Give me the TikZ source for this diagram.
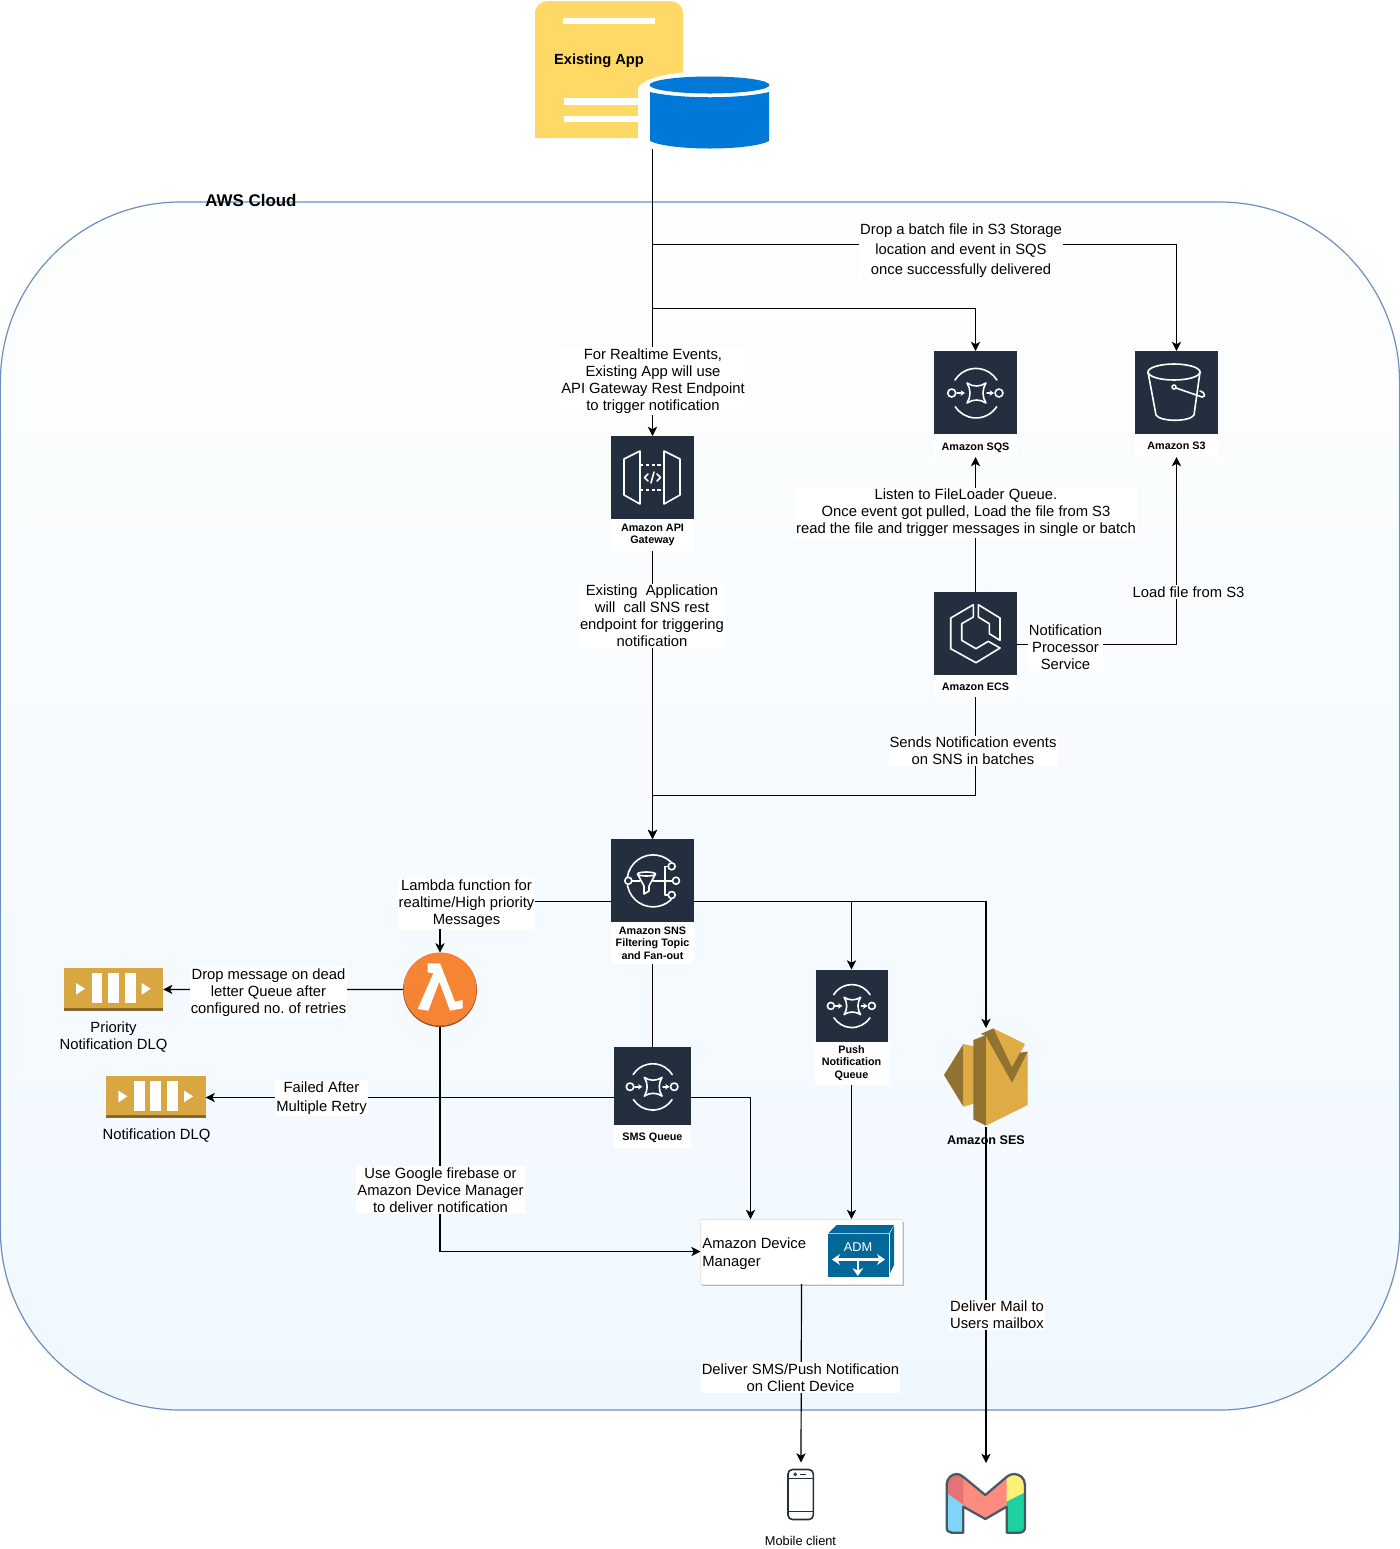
\documentclass[tikz,border=0pt]{standalone}
\usepackage{fontspec}
\setmainfont{Liberation Sans}
\frenchspacing
\usetikzlibrary{arrows.meta,fit,calc}
\definecolor{awsdark}{HTML}{232F3E}
\definecolor{docyellow}{HTML}{FFD966}
\definecolor{dbblue}{HTML}{0078D7}
\definecolor{gold}{HTML}{D9A741}
\definecolor{golddark}{HTML}{876929}
\definecolor{sesgold}{HTML}{DEAB44}
\definecolor{sesdark}{HTML}{917230}
\definecolor{admblue}{HTML}{036897}
\definecolor{lamorange}{HTML}{F58534}
\definecolor{lamdark}{HTML}{9D5025}
\definecolor{cloudline}{HTML}{6C8EBF}
\definecolor{cloudtop}{HTML}{FDFEFE}
\definecolor{cloudbottom}{HTML}{F0F8FF}
\definecolor{gmline}{HTML}{455A64}
\definecolor{gmsalmon}{HTML}{FF8A80}
\definecolor{gmred}{HTML}{E57373}
\definecolor{gmblue}{HTML}{81D4FA}
\definecolor{gmyellow}{HTML}{FFF176}
\definecolor{gmgreen}{HTML}{1DD1A1}
\tikzset{
  ibox/.style={rectangle,fill=awsdark,minimum size=41.5pt,inner sep=0pt,outer sep=0pt},
  ilbl/.style={rectangle,fill=white,anchor=north,minimum width=41.5pt,inner sep=0pt,outer sep=0pt,align=center,
    font=\fontsize{5.4}{6.25}\selectfont\bfseries},
  ilblone/.style={ilbl,text height=4.6pt,text depth=0pt},
  grp/.style={rectangle,inner sep=0pt,outer sep=0pt},
  spot/.style={rectangle,inner sep=0pt,outer sep=0pt},
  lbl/.style={rectangle,fill=white,inner xsep=0.5pt,inner ysep=0.6pt,align=center,
    font=\fontsize{7.4}{8.5}\selectfont},
  lblwide/.style={lbl,font=\fontsize{7.4}{10}\selectfont},
  plain/.style={rectangle,inner sep=0pt,align=center,font=\fontsize{7.4}{8.5}\selectfont},
  conn/.style={draw=black,line width=.6pt},
  arr/.style={conn,-{Stealth[length=4.6pt,width=4.6pt,inset=1.2pt]}},
  icn/.style={draw=white,line width=.8pt,line join=round,line cap=round},
}
\newcommand{\glyphsqs}[3]{\begin{scope}[shift={(#1,#2)},scale=#3,icn]
  \draw (21,29) arc[start angle=212,end angle=328,radius=24.7];
  \draw (62.7,55.7) arc[start angle=33,end angle=147,radius=24.7];
  \draw (17.7,42) circle[radius=4];
  \draw (65,42) circle[radius=4];
  \draw[-{Stealth[length=2.2pt,width=2.8pt]}] (23,42) -- (31,42);
  \draw[-{Stealth[length=2.2pt,width=2.8pt]}] (53,42) -- (60,42);
  \draw (33,32) .. controls (39,36) and (46,36) .. (52,32) .. controls (48,38) and (48,46) .. (52,52)
     .. controls (46,48) and (39,48) .. (33,52) .. controls (37,46) and (37,38) .. (33,32) -- cycle;
\end{scope}}
\begin{document}
\begin{tikzpicture}[x=.5pt,y=-.5pt]
\useasboundingbox (0,0) rectangle (1400,1549);

% cloud
\node[rectangle,draw=cloudline,line width=.6pt,rounded corners=90pt,top color=cloudtop,bottom color=cloudbottom,
  minimum width=699.6pt,minimum height=604pt,inner sep=0pt,outer sep=0pt] (cloud) at (700,806) {};

% existing app
\fill[docyellow] (535,138) -- (535,14) .. controls (535,5) and (541,1) .. (550,1) -- (668,1)
   .. controls (677,1) and (683,5) .. (683,14) -- (683,138) -- cycle;
\fill[white] (563,18) rectangle (654.5,24);
\fill[white] (564,98) rectangle (640,104.5);
\fill[white] (564,115.5) rectangle (640,122);
\node[spot,font=\fontsize{7.35}{8.5}\selectfont\bfseries] (appname) at (599,61) {Existing App};
\fill[white] (638,160) -- (638,90) .. controls (638,78) and (675,71) .. (710,71) .. controls (750,71) and (782,78) .. (782,90) -- (782,160) -- cycle;
\fill[dbblue] (709.5,85) ellipse[x radius=60,y radius=8.5];
\fill[dbblue] (650,92) .. controls (680,99) and (740,99) .. (769,92) -- (769,141) .. controls (750,151) and (670,151) .. (650,141) -- cycle;
\node[spot,minimum width=60pt,minimum height=36.5pt] (db) at (709.5,112.5) {};
\coordinate (dbout) at (652.5,149);
\coordinate (branchone) at (652.5,244.5);
\coordinate (branchtwo) at (652.5,308.5);

% AWS icons
\node[ibox] (sqs) at (975.5,392.5) {};
\node[ilblone,minimum height=11.5pt] (sqsl) at (sqs.south) {Amazon SQS};
\glyphsqs{934}{351}{1}
\node[ibox] (s3) at (1176.5,392.5) {};
\node[ilbl,minimum height=11.5pt] (s3l) at (s3.south) {Amazon S3};
\begin{scope}[shift={(1135,351)},icn]
  \draw (39,21) ellipse[x radius=26,y radius=8];
  \draw (13,21) -- (21,64) .. controls (25,71) and (55,71) .. (59,64) -- (65,21);
  \draw (39,36) circle[radius=2];
  \draw (41,37) -- (67,46) .. controls (71,46) and (70,41) .. (65,40);
\end{scope}
\node[ibox] (api) at (652.5,477.5) {};
\node[ilbl,minimum height=16pt] (apil) at (api.south) {Amazon API\\Gateway};
\begin{scope}[shift={(611,436)},icn]
  \draw (13,23) -- (29,15) -- (29,68) -- (13,59) -- cycle;
  \draw (69,23) -- (53,15) -- (53,68) -- (69,59) -- cycle;
  \draw[dash pattern=on 1.6pt off 1.3pt,line cap=butt] (29,29) -- (53,29);
  \draw[dash pattern=on 1.6pt off 1.3pt,line cap=butt] (29,54) -- (53,54);
  \draw (37,38) -- (33.5,41.5) -- (37,45);
  \draw (46,38) -- (49.5,41.5) -- (46,45);
  \draw (43,36) -- (40,47);
\end{scope}
\node[ibox] (ecs) at (975.5,633.5) {};
\node[ilblone,minimum height=11pt] (ecsl) at (ecs.south) {Amazon ECS};
\node[grp,fit=(ecs)(ecsl)] (ecsg) {};
\begin{scope}[shift={(934,592)},icn]
  \draw (39.3,12.7) -- (16.7,26) -- (16.7,56.7) -- (42,70.7) -- (66,56) -- (54.3,49.3) -- (42,56.7) -- (27.7,48.3) -- (27.7,31.7) -- (39.3,25) -- cycle;
  \draw (44.3,12.7) -- (66,26) -- (66,48.3) -- (55.3,41.7) -- (55.3,31.7) -- (44.3,25) -- cycle;
\end{scope}
\node[ibox] (sns) at (652.5,880.5) {};
\node[ilbl,minimum height=21pt] (snsl) at (sns.south) {Amazon SNS\\Filtering Topic\\and Fan-out};
\node[grp,fit=(sns)(snsl)] (snsg) {};
\begin{scope}[shift={(611,839)},icn]
  \draw (60,23) arc[start angle=313.5,end angle=46.5,radius=26];
  \draw (21,42) -- (29,42);
  \draw (42,42) -- (61.5,42);
  \draw (58,27.3) -- (54,27.3) -- (54,56) -- (58,56);
  \draw[fill=awsdark] (17.3,41.7) circle[radius=3.5];
  \draw[fill=awsdark] (60.7,27.3) circle[radius=3.5];
  \draw[fill=awsdark] (65,41.7) circle[radius=3.5];
  \draw[fill=awsdark] (60.7,56) circle[radius=3.5];
  \draw[fill=awsdark] (26.5,35) -- (33,47) -- (33,55) -- (38,52) -- (38,47) -- (44.5,35);
  \draw[fill=awsdark] (35.5,35) ellipse[x radius=9,y radius=2];
\end{scope}
\node[ibox,minimum size=38.75pt] (smsq) at (652.5,1086) {};
\node[ilblone,minimum width=38.75pt,minimum height=11.5pt] (smsl) at (smsq.south) {SMS Queue};
\node[grp,fit=(smsq)(smsl)] (smsg) {};
\glyphsqs{613.5}{1047.5}{.934}
\node[ibox,minimum size=36pt] (push) at (851.5,1005.5) {};
\node[ilbl,minimum width=37pt,minimum height=21.5pt] (pushl) at (push.south) {Push\\Notification\\Queue};
\glyphsqs{815.5}{969.5}{.867}

% lambda
\fill[lamdark] (440,990) circle[radius=37];
\fill[lamorange] (440,989) circle[radius=36.5];
\fill[white] (427.7,963.3) -- (440,963.3) -- (455,1001.7) -- (462.7,1000) -- (462.7,1008.3) -- (450,1010.7)
   -- (439.3,981.7) -- (428.3,1010.7) -- (417.7,1009) -- (433.3,973.3) -- (427.7,972.3) -- cycle;
\node[circle,minimum size=37pt,inner sep=0pt,outer sep=0pt] (lambda) at (440,989.5) {};

% dead letter queues
\newcommand{\glyphdlq}[2]{\begin{scope}[shift={(#1,#2)}]
  \fill[gold] (0,0) rectangle (99.3,40);
  \fill[golddark] (0,39.5) rectangle (99.3,42.7);
  \fill[white] (12,15) -- (21,20.7) -- (12,26.7) -- cycle;
  \fill[white] (27.7,5) rectangle (38.3,35);
  \fill[white] (44,5) rectangle (55,35);
  \fill[white] (61,5) rectangle (71.7,35);
  \fill[white] (77.7,15) -- (86.7,20.7) -- (77.7,26.7) -- cycle;
\end{scope}}
\glyphdlq{64}{968}
\node[spot,minimum width=49.6pt,minimum height=21.4pt] (dlqa) at (113.6,989.4) {};
\glyphdlq{106.4}{1075.6}
\node[spot,minimum width=49.6pt,minimum height=21.4pt] (dlqb) at (156,1097.5) {};
\node[plain] (dlqatxt) at (113.5,1037.5) {Priority\\[0pt]Notification DLQ};
\node[plain] (dlqbtxt) at (156.5,1136) {Notification DLQ};

% ADM
\fill[black!27] (702,1222) rectangle (904,1286);
\node[rectangle,fill=white,draw=black!10,line width=.3pt,minimum width=101pt,minimum height=32.5pt,inner sep=0pt,outer sep=0pt] (adm) at (801.5,1251.5) {};
\node[rectangle,inner sep=0pt,anchor=west,align=left,font=\fontsize{7.4}{9.3}\selectfont] (admtxt) at (702,1253.5) {Amazon Device\\Manager};
\fill[admblue] (828.3,1233.3) -- (836.5,1225) -- (894,1225) -- (889,1233.3) -- cycle;
\fill[admblue] (828.3,1234.3) rectangle (889,1276.7);
\fill[admblue] (890,1233.3) -- (894,1226) -- (894,1265) -- (890,1273) -- cycle;
\node[spot,text=white,font=\fontsize{6.4}{7}\selectfont] (admcube) at (858,1247.5) {ADM};
\draw[white,line width=1.2pt,{Stealth[length=4pt,width=5.4pt]}-{Stealth[length=4pt,width=5.4pt]}] (832,1259.5) -- (885,1259.5);
\draw[white,line width=1.2pt,-{Stealth[length=4pt,width=5.4pt]}] (857.8,1259.5) -- (857.8,1276);
\coordinate (adminsms) at (750.5,1219);

% SES
\begin{scope}[shift={(930,1020)},scale=1/3]
  \fill[sesgold] (100,72) -- (135,80) -- (135,250) -- (100,260) -- cycle;
  \fill[sesdark] (42,165) -- (100,72) -- (100,260) -- cycle;
  \fill[sesdark] (130,60) -- (168,45) -- (168,317) -- (130,298) -- cycle;
  \fill[sesgold] (168,50) -- (190,25) -- (285,72) -- (270,100) -- (293,95) -- (293,255) -- (168,317) -- cycle;
  \fill[sesdark] (152,42) -- (190,25) -- (246,142) -- (270,98) -- (293,95) -- (246,188) -- (168,48) -- cycle;
\end{scope}
\node[spot,minimum width=42pt,minimum height=49.5pt] (ses) at (986,1077.5) {};

% phone
\node[spot,minimum width=26pt,minimum height=29pt] (phone) at (801,1491.5) {};
\draw[draw=awsdark,line width=.8pt,rounded corners=2.2pt] (788,1469.5) rectangle (813.3,1519.5);
\draw[awsdark,line width=.6pt] (788,1478.3) -- (813.3,1478.3);
\draw[awsdark,line width=.6pt] (788,1511.7) -- (813.3,1511.7);
\draw[awsdark,line width=.5pt] (795.3,1474.3) circle[radius=1.3];
\draw[awsdark,line width=.6pt] (800,1474.3) -- (806,1474.3);
\node[spot,font=\fontsize{6.4}{7.5}\selectfont] (phonetxt) at (800.5,1540.5) {Mobile client};

% gmail
\begin{scope}[shift={(750,1450)},scale=1/3]
  \begin{scope}
    \clip (590,105) .. controls (590,85) and (605,72) .. (620,72) .. controls (626,72) and (632,75) .. (638,79) -- (706,135)
      -- (772,79) .. controls (778,75) and (786,72) .. (792,72) .. controls (810,72) and (825,85) .. (825,105) -- (825,232)
      .. controls (825,242) and (818,248) .. (808,248) -- (770,248) -- (770,170) -- (706,207) -- (640,170) -- (640,248) -- (605,248)
      .. controls (596,248) and (590,242) .. (590,232) -- cycle;
    \fill[gmsalmon] (580,60) -- (850,60) -- (850,260) -- (580,260) -- cycle;
    \fill[gmred] (580,60) -- (640,60) -- (640,165) -- (580,122) -- cycle;
    \fill[gmblue] (580,122) -- (640,165) -- (640,260) -- (580,260) -- cycle;
    \fill[gmyellow] (770,60) -- (850,60) -- (850,115) -- (770,155) -- cycle;
    \fill[gmgreen] (770,155) -- (850,115) -- (850,260) -- (770,260) -- cycle;
  \end{scope}
  \draw[gmline,line width=1.15pt,line join=round] (590,105) .. controls (590,85) and (605,72) .. (620,72) .. controls (626,72) and (632,75) .. (638,79) -- (706,135)
      -- (772,79) .. controls (778,75) and (786,72) .. (792,72) .. controls (810,72) and (825,85) .. (825,105) -- (825,232)
      .. controls (825,242) and (818,248) .. (808,248) -- (770,248) -- (770,170) -- (706,207) -- (640,170) -- (640,248) -- (605,248)
      .. controls (596,248) and (590,242) .. (590,232) -- cycle;
\end{scope}
\node[spot,minimum width=40pt,minimum height=35pt] (gmail) at (986,1498) {};

% connectors
\draw[arr] (dbout) -- (api.north);
\draw[arr] (branchone) -| (s3.north);
\draw[arr] (branchtwo) -| (sqs.north);
\draw[arr] (apil.south) -- (sns.north);
\draw[arr] (ecs.north) -- (sqsl.south);
\draw[arr] (ecsg.east) -| (s3l.south);
\draw[arr] (ecsl.south) |- ($(sns.north)+(0,-43.5)$) -- (sns.north);
\draw[arr] (snsg.west) -| (lambda.north);
\draw[arr] (snsg.east) -| (push.north);
\draw[arr] (snsg.east) -| (ses.north);
\draw[conn] (snsl.south) -- (smsq.north);
\draw[arr] (lambda.west) -- (dlqa.east);
\draw[arr] (smsg.west) -- (dlqb.east);
\draw[arr] (smsg.east) -| (adminsms);
\draw[arr] (pushl.south) -- (pushl.south |- adm.north);
\draw[arr] (lambda.south) |- (adm.west);
\draw[arr] (adm.south) -- (phone.north);
\draw[arr] (ses.south) -- (gmail.north);

% edge labels
\node[spot,font=\fontsize{8.45}{10}\selectfont\bfseries] (awstitle) at (251,200) {AWS Cloud};
\node[lblwide] (ldrop) at (961,251) {Drop a batch file in S3 Storage\\location and event in SQS\\once successfully delivered};
\node[lbl] (lreal) at (653,381) {For Realtime Events,\\Existing App will use\\API Gateway Rest Endpoint\\to trigger notification};
\node[lbl] (lexist) at (652,616) {Existing\ \ Application\\will\ \ call SNS rest\\endpoint for triggering\\notification};
\node[lbl] (llisten) at (966,513) {Listen to FileLoader Queue.\\Once event got pulled, Load the file from S3\\read the file and trigger messages in single or batch};
\node[lbl] (lload) at (1188.5,592) {Load file from S3};
\node[lbl] (lproc) at (1065.5,647.5) {Notification\\Processor\\Service};
\node[lbl] (lsends) at (973,751) {Sends Notification events\\on SNS in batches};
\node[lbl] (llam) at (466.5,904) {Lambda function for\\realtime/High priority\\Messages};
\node[lbl] (lret) at (268.5,992.5) {Drop message on dead\\letter Queue after\\configured no. of retries};
\node[lbl,font=\fontsize{7.4}{9.5}\selectfont] (lfail) at (321.5,1098) {Failed After\\Multiple Retry};
\node[lbl] (lfire) at (440.5,1190) {Use Google firebase or\\Amazon Device Manager\\to deliver notification};
\node[lbl] (lcli) at (800.5,1377.5) {Deliver SMS/Push Notification\\on Client Device};
\node[lbl] (lmail) at (997,1315) {Deliver Mail to\\Users mailbox};
\node[spot,font=\fontsize{6.3}{7.5}\selectfont\bfseries] (sestxt) at (986,1140.5) {Amazon SES};
\end{tikzpicture}
\end{document}
